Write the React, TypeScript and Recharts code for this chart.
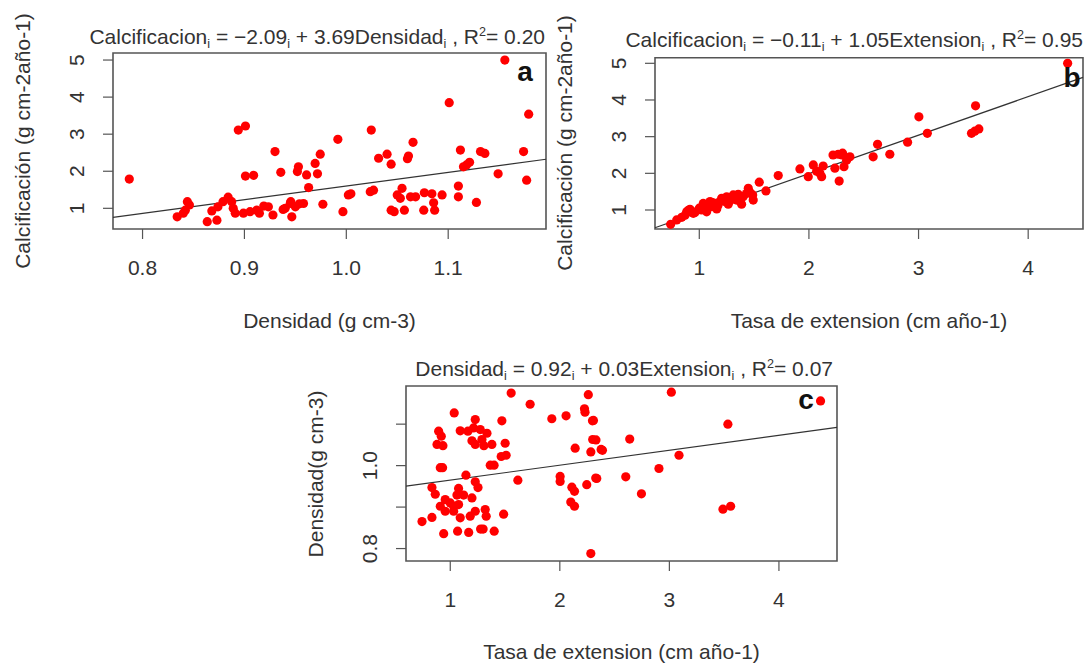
import React from 'react';
import { ScatterChart, Scatter, XAxis, YAxis, ReferenceArea, ReferenceLine } from 'recharts';

const FONT = '"Liberation Sans", Arial, Helvetica, sans-serif';
const TXT = '#333333';

// ---------- Panel a: Densidad vs Calcificación ----------
const aDensidad = [
  0.787, 0.834, 0.840, 0.842, 0.844, 0.846, 0.8635, 0.868, 0.873, 0.874,
  0.879, 0.884, 0.8875, 0.889, 0.891, 0.894, 0.901, 0.899, 0.901, 0.909,
  0.9055, 0.912, 0.9147, 0.919, 0.9235, 0.928, 0.930, 0.9357, 0.938, 0.940,
  0.9465, 0.945, 0.9455, 0.950, 0.952, 0.953, 0.954, 0.958, 0.961, 0.963,
  0.9694, 0.9717, 0.9744, 0.977, 0.9917, 0.9967, 1.002, 1.0045, 1.0245, 1.0235,
  1.0267, 1.0317, 1.040, 1.044, 1.044, 1.047, 1.050, 1.0547, 1.053, 1.057,
  1.061, 1.060, 1.0655, 1.063, 1.068, 1.0766, 1.076, 1.084, 1.0857, 1.0867,
  1.094, 1.101, 1.110, 1.110, 1.112, 1.115, 1.118, 1.121, 1.1277, 1.1317,
  1.136, 1.149, 1.1556, 1.174, 1.177, 1.179,
];
const aCalcificacion = [
  1.79, 0.77, 0.87, 0.95, 1.18, 1.09, 0.64, 0.93, 0.68, 1.04,
  1.18, 1.30, 1.18, 1.00, 0.87, 3.11, 3.22, 0.87, 1.87, 1.89,
  0.91, 0.95, 0.87, 1.06, 1.04, 0.82, 2.53, 1.97, 0.97, 1.00,
  0.77, 1.13, 1.18, 1.04, 1.99, 2.12, 1.12, 1.13, 1.90, 1.56,
  2.21, 1.93, 2.46, 1.11, 2.86, 0.91, 1.36, 1.39, 3.11, 1.45,
  1.49, 2.35, 2.46, 2.19, 0.95, 0.91, 1.36, 1.54, 1.27, 0.95,
  2.41, 2.34, 2.78, 1.31, 1.31, 1.42, 0.95, 1.39, 1.15, 0.95,
  1.36, 3.85, 1.60, 1.31, 2.57, 2.12, 2.17, 2.24, 1.16, 2.53,
  2.48, 1.93, 5.00, 2.53, 1.76, 3.54,
];
const aXDomain = [0.771, 1.196];
const aYDomain = [0.442, 5.19];
const aXTicks = [0.8, 0.9, 1.0, 1.1];
const aYTicks = [1, 2, 3, 4, 5];
const aFit = [-2.09, 3.69];

// ---------- Panel b: Extension vs Calcificación ----------
const bExtension = [
  0.739, 0.794, 0.84, 0.87, 0.885, 0.90, 0.915, 0.93, 0.945, 0.96,
  1.0, 1.02, 1.036, 1.052, 1.067, 1.08, 1.098, 1.113, 1.12, 1.143,
  1.159, 1.17, 1.189, 1.204, 1.22, 1.234, 1.25, 1.264, 1.28, 1.295,
  1.31, 1.33, 1.34, 1.355, 1.37, 1.386, 1.40, 1.43, 1.447, 1.462,
  1.487, 1.492, 1.547, 1.608, 1.72, 1.918, 1.994, 2.04, 2.07, 2.10,
  2.116, 2.13, 2.22, 2.237, 2.267, 2.276, 2.30, 2.307, 2.32, 2.344,
  2.374, 2.586, 2.626, 2.738, 2.90, 3.003, 3.08, 3.483, 3.513, 3.52,
  3.55, 4.36,
];
const bCalcificacion = [
  0.61, 0.73, 0.80, 0.86, 0.95, 0.99, 1.02, 0.97, 0.91, 0.93,
  1.05, 1.00, 1.18, 1.09, 0.95, 1.15, 1.23, 1.09, 1.20, 1.18,
  1.03, 1.12, 1.23, 1.32, 1.28, 1.23, 1.36, 1.16, 1.25, 1.32,
  1.41, 1.38, 1.27, 1.43, 1.30, 1.16, 1.36, 1.45, 1.59, 1.48,
  1.41, 1.27, 1.76, 1.52, 1.94, 2.12, 1.91, 2.23, 2.06, 2.00,
  1.91, 2.20, 2.50, 2.14, 2.52, 1.79, 2.50, 2.55, 2.18, 2.36,
  2.45, 2.45, 2.79, 2.52, 2.85, 3.54, 3.09, 3.09, 3.15, 3.84,
  3.21, 5.00,
];
const bXDomain = [0.596, 4.50];
const bYDomain = [0.482, 5.153];
const bXTicks = [1, 2, 3, 4];
const bYTicks = [1, 2, 3, 4, 5];
const bFit = [-0.11, 1.05];

// ---------- Panel c: Extension vs Densidad ----------
const cExtension = [
  1.556, 1.729, 1.927, 2.057, 2.26, 2.225, 2.23, 2.307, 2.30, 2.33,
  2.283, 2.377, 2.14, 2.003, 2.003, 2.11, 2.134, 2.10, 2.134, 2.246,
  2.337, 2.283, 1.617, 1.036, 0.894, 0.918, 0.879, 0.933, 0.909, 0.93,
  1.091, 1.161, 1.228, 1.213, 1.274, 1.335, 1.198, 1.228, 1.289, 1.307,
  1.38, 1.471, 1.501, 1.465, 1.51, 1.365, 1.40, 1.143, 1.228, 1.253,
  0.833, 0.863, 1.076, 1.061, 1.122, 1.198, 0.954, 1.0, 0.909, 1.031,
  1.076, 0.954, 1.031, 1.091, 1.182, 1.228, 1.319, 1.328, 1.487, 0.742,
  0.833, 0.94, 1.067, 1.168, 1.277, 1.30, 1.401, 3.018, 3.534, 2.638,
  2.389, 3.088, 2.905, 2.602, 2.745, 3.489, 3.559, 2.328, 2.298, 4.38,
];
const cDensidad = [
  1.175, 1.148, 1.113, 1.120, 1.171, 1.137, 1.129, 1.109, 1.063, 1.062,
  1.033, 1.039, 1.042, 0.974, 0.962, 0.948, 0.938, 0.912, 0.902, 0.954,
  0.969, 0.788, 0.965, 1.127, 1.083, 1.071, 1.051, 1.048, 0.995, 0.995,
  1.084, 1.083, 1.111, 1.091, 1.087, 1.078, 1.060, 1.051, 1.063, 1.048,
  1.051, 1.108, 1.054, 1.022, 1.025, 1.001, 1.001, 0.977, 0.961, 0.947,
  0.947, 0.931, 0.945, 0.929, 0.929, 0.922, 0.918, 0.910, 0.902, 0.902,
  0.906, 0.890, 0.890, 0.874, 0.878, 0.890, 0.894, 0.878, 0.883, 0.865,
  0.875, 0.836, 0.842, 0.839, 0.847, 0.847, 0.842, 1.177, 1.100, 1.064,
  1.037, 1.025, 0.993, 0.973, 0.932, 0.895, 0.902, 0.970, 1.108, 1.156,
];
const cXDomain = [0.596, 4.53];
const cYDomain = [0.770, 1.192];
const cXTicks = [1, 2, 3, 4];
const cYTicks = [0.8, 0.9, 1.0, 1.1];
const cYLabels = ['0.8', '', '1.0', ''];
const cFit = [0.929, 0.036];

const Dot = (props: any) => {
  const { cx, cy } = props;
  if (cx == null || cy == null) return null;
  return <circle cx={cx} cy={cy} r={4.6} fill="#ff0000" />;
};

const makeXTick = (fmt: (v: number) => string) => (props: any) => {
  const { x, y, payload } = props;
  return (
    <text x={x} y={y} dy="0.36em" textAnchor="middle" fontSize={21} fill={TXT} fontFamily={FONT}>
      {fmt(payload.value)}
    </text>
  );
};

const makeYTick = (fmt: (v: number) => string) => (props: any) => {
  const { x, y, payload } = props;
  return (
    <text x={x} y={y} transform={`rotate(-90 ${x} ${y})`} textAnchor="middle" fontSize={21} fill={TXT} fontFamily={FONT}>
      {fmt(payload.value)}
    </text>
  );
};

type PanelProps = {
  left: number; top: number; width: number; height: number;
  margin: { top: number; right: number; bottom: number; left: number };
  xs: number[]; ys: number[];
  xDomain: number[]; yDomain: number[];
  xTicks: number[]; yTicks: number[];
  xFmt: (v: number) => string; yFmt: (v: number) => string;
  fit: number[];
};

function Panel(p: PanelProps) {
  const data = p.xs.map((x, i) => ({ x, y: p.ys[i] }));
  const [x0, x1] = p.xDomain;
  const [y0, y1] = p.yDomain;
  const seg = [
    { x: x0, y: p.fit[0] + p.fit[1] * x0 },
    { x: x1, y: p.fit[0] + p.fit[1] * x1 },
  ];
  return (
    <div style={{ position: 'absolute', left: p.left, top: p.top }}>
      <ScatterChart width={p.width} height={p.height} margin={p.margin}>
        <XAxis
          type="number" dataKey="x" domain={p.xDomain} allowDataOverflow ticks={p.xTicks} interval={0}
          height={40} tickSize={10} tickMargin={28} axisLine={false}
          tickLine={{ stroke: '#555', strokeWidth: 1.2 }} tick={makeXTick(p.xFmt)}
        />
        <YAxis
          type="number" dataKey="y" domain={p.yDomain} allowDataOverflow ticks={p.yTicks} interval={0}
          width={40} tickSize={10} tickMargin={19} axisLine={false}
          tickLine={{ stroke: '#555', strokeWidth: 1.2 }} tick={makeYTick(p.yFmt)}
        />
        <ReferenceArea x1={x0} x2={x1} y1={y0} y2={y1} fill="none" fillOpacity={0} stroke="#555" strokeWidth={1.6} ifOverflow="visible" />
        <Scatter data={data} shape={Dot} isAnimationActive={false} />
        <ReferenceLine segment={seg} stroke="#333" strokeWidth={1.2} ifOverflow="visible" />
      </ScatterChart>
    </div>
  );
}

const baseText: React.CSSProperties = {
  position: 'absolute', fontFamily: FONT, fontSize: 21, lineHeight: '24px', color: TXT, whiteSpace: 'nowrap',
};
const subStyle: React.CSSProperties = { fontSize: '0.6em', position: 'relative', top: '0.35em' };
const supStyle: React.CSSProperties = { fontSize: '0.6em', position: 'relative', top: '-0.65em' };

function Title({ right, cy, children }: { right: number; cy: number; children: React.ReactNode }) {
  return <div style={{ ...baseText, left: right, top: cy - 12, transform: 'translateX(-100%)' }}>{children}</div>;
}
function XTitle({ cx, cy, text }: { cx: number; cy: number; text: string }) {
  return <div style={{ ...baseText, left: cx, top: cy - 12, transform: 'translateX(-50%)' }}>{text}</div>;
}
function YTitle({ cx, cy, text }: { cx: number; cy: number; text: string }) {
  return <div style={{ ...baseText, left: cx, top: cy, transform: 'translate(-50%, -50%) rotate(-90deg)' }}>{text}</div>;
}
function Letter({ cx, baseline, text }: { cx: number; baseline: number; text: string }) {
  return (
    <div style={{ ...baseText, fontSize: 28, lineHeight: '28px', fontWeight: 'bold', color: '#111', left: cx, top: baseline - 23.7, transform: 'translateX(-50%)' }}>
      {text}
    </div>
  );
}

const f1 = (v: number) => v.toFixed(1);
const f0 = (v: number) => String(Math.round(v));
const fc = (v: number) => cYLabels[cYTicks.indexOf(v)] ?? '';

export default function App() {
  return (
    <div style={{ position: 'absolute', left: 0, top: 0, width: 1086, height: 666, background: '#fff', overflow: 'hidden' }}>
      <Panel
        left={0} top={0} width={560} height={340}
        margin={{ top: 53, right: 14, bottom: 71, left: 73 }}
        xs={aDensidad} ys={aCalcificacion} xDomain={aXDomain} yDomain={aYDomain}
        xTicks={aXTicks} yTicks={aYTicks} xFmt={f1} yFmt={f0} fit={aFit}
      />
      <Panel
        left={560} top={0} width={526} height={340}
        margin={{ top: 57.7, right: 3, bottom: 71, left: 55 }}
        xs={bExtension} ys={bCalcificacion} xDomain={bXDomain} yDomain={bYDomain}
        xTicks={bXTicks} yTicks={bYTicks} xFmt={f0} yFmt={f0} fit={bFit}
      />
      <Panel
        left={280} top={340} width={580} height={326}
        margin={{ top: 46, right: 23, bottom: 65, left: 86 }}
        xs={cExtension} ys={cDensidad} xDomain={cXDomain} yDomain={cYDomain}
        xTicks={cXTicks} yTicks={cYTicks} xFmt={f0} yFmt={fc} fit={cFit}
      />

      <Title right={545} cy={37}>
        Calcificacion<span style={subStyle}>i</span> = −2.09<span style={subStyle}>i</span> + 3.69Densidad<span style={subStyle}>i</span> , R<span style={supStyle}>2</span>= 0.20
      </Title>
      <Title right={1083} cy={40}>
        Calcificacion<span style={subStyle}>i</span> = −0.11<span style={subStyle}>i</span> + 1.05Extension<span style={subStyle}>i</span> , R<span style={supStyle}>2</span>= 0.95
      </Title>
      <Title right={833} cy={369}>
        Densidad<span style={subStyle}>i</span> = 0.92<span style={subStyle}>i</span> + 0.03Extension<span style={subStyle}>i</span> , R<span style={supStyle}>2</span>= 0.07
      </Title>

      <XTitle cx={329.5} cy={321} text="Densidad (g cm-3)" />
      <XTitle cx={869} cy={321} text="Tasa de extension (cm año-1)" />
      <XTitle cx={621.5} cy={652} text="Tasa de extension (cm año-1)" />

      <YTitle cx={23} cy={141} text="Calcificación (g cm-2año-1)" />
      <YTitle cx={565} cy={143} text="Calcificación (g cm-2año-1)" />
      <YTitle cx={316} cy={473.5} text="Densidad(g cm-3)" />

      <Letter cx={525} baseline={81.7} text="a" />
      <Letter cx={1072} baseline={87.3} text="b" />
      <Letter cx={806} baseline={410} text="c" />
    </div>
  );
}
